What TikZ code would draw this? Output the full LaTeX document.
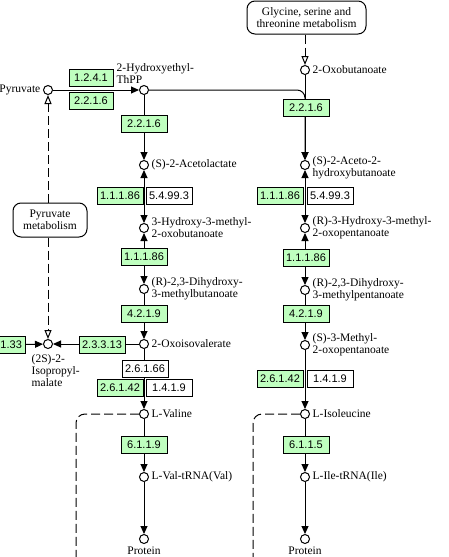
\documentclass[tikz,border=0pt]{standalone}
\usepackage{fontspec}
\setmainfont{Liberation Serif}
\newfontfamily\ecfont{Liberation Sans}
\usetikzlibrary{arrows.meta,positioning}
\pgfdeclarelayer{bg}
\pgfsetlayers{bg,main}
\definecolor{ecgreen}{RGB}{191,255,191}
\tikzset{
  cpd/.style={circle,draw,fill=white,minimum size=9pt,inner sep=0pt,line width=1pt},
  enz/.style={draw,fill=ecgreen,minimum width=46pt,minimum height=17pt,inner sep=0pt,
    line width=1pt,font=\ecfont\fontsize{11}{11}\selectfont},
  ortho/.style={enz,fill=white},
  lbl/.style={font=\fontsize{11.5}{12}\selectfont,align=left,inner sep=1.5pt},
  mapbox/.style={draw,fill=white,rounded corners=8pt,line width=1pt,align=center,
    inner sep=0pt,font=\fontsize{11.5}{12}\selectfont},
  conn/.style={line width=1pt},
  fwd/.style={conn,-{Triangle[length=8pt,width=7pt]}},
  rev/.style={conn,{Triangle[length=8pt,width=7pt]}-{Triangle[length=8pt,width=7pt]}},
  link/.style={conn,dash pattern=on 9pt off 4pt},
  linkarr/.style={link,-{Triangle[open,length=9pt,width=7pt]}}
}

\begin{document}
\begin{tikzpicture}[x=1pt,y=-1pt]
\useasboundingbox (0,0) rectangle (448,557);
\clip (0,0) rectangle (448,557);

% compounds, valine branch
\node[cpd] (pyr) at (48,90) {};
\node[cpd] (thpp) at (144,90) {};
\node[cpd] (acl) at (144,165) {};
\node[cpd] (hmob) at (144,228) {};
\node[cpd] (dhmb) at (144,289) {};
\node[cpd] (oiv) at (144,344) {};
\node[cpd] (ipm) at (48,344) {};
\node[cpd] (val) at (144,414) {};
\node[cpd] (valt) at (144,477) {};
\node[cpd] (protA) at (144,539) {};
% compounds, isoleucine branch
\node[cpd] (oxb) at (305,70) {};
\node[cpd] (ahb) at (305,165) {};
\node[cpd] (hmop) at (305,228) {};
\node[cpd] (dhmp) at (305,290) {};
\node[cpd] (mop) at (305,345) {};
\node[cpd] (ile) at (305,414) {};
\node[cpd] (ilet) at (305,477) {};
\node[cpd] (protB) at (305,539) {};

% compound names
\node[lbl,left=1pt of pyr] (pyrlbl) {Pyruvate};
\node[lbl,anchor=south west] (thpplbl) at (115,85) {2-Hydroxyethyl-\\ThPP};
\node[lbl,right=1pt of acl] (acllbl) {(S)-2-Acetolactate};
\node[lbl,right=1pt of hmob] (hmoblbl) {3-Hydroxy-3-methyl-\\2-oxobutanoate};
\node[lbl,right=1pt of dhmb] (dhmblbl) {(R)-2,3-Dihydroxy-\\3-methylbutanoate};
\node[lbl,right=1pt of oiv] (oivlbl) {2-Oxoisovalerate};
\node[lbl,anchor=north west] (ipmlbl) at (30,353) {(2S)-2-\\Isopropyl-\\malate};
\node[lbl,right=1pt of val] (vallbl) {L-Valine};
\node[lbl,right=1pt of valt] (valtlbl) {L-Val-tRNA(Val)};
\node[lbl,below=1pt of protA] (protAlbl) {Protein};
\node[lbl,right=1pt of oxb] (oxblbl) {2-Oxobutanoate};
\node[lbl,right=1pt of ahb,yshift=-3pt] (ahblbl) {(S)-2-Aceto-2-\\hydroxybutanoate};
\node[lbl,right=1pt of hmop] (hmoplbl) {(R)-3-Hydroxy-3-methyl-\\2-oxopentanoate};
\node[lbl,right=1pt of dhmp] (dhmplbl) {(R)-2,3-Dihydroxy-\\3-methylpentanoate};
\node[lbl,right=1pt of mop] (moplbl) {(S)-3-Methyl-\\2-oxopentanoate};
\node[lbl,right=1pt of ile] (ilelbl) {L-Isoleucine};
\node[lbl,right=1pt of ilet] (iletlbl) {L-Ile-tRNA(Ile)};
\node[lbl,below=1pt of protB] (protBlbl) {Protein};

% linked maps
\node[mapbox,minimum width=119pt,minimum height=33pt] (gly) at (306.5,17.5)
  {Glycine, serine and\\threonine metabolism};
\node[mapbox,minimum width=74pt,minimum height=34pt] (pm) at (50,220)
  {Pyruvate\\metabolism};

% enzymes
\node[enz,minimum width=44pt] (e1241) at (91,78) {1.2.4.1};
\node[enz,minimum width=44pt] (e2216a) at (91,101) {2.2.1.6};
\node[enz] (e2216b) at (144,123.5) {2.2.1.6};
\node[enz] (e11186a) at (120,195.5) {1.1.1.86};
\node[ortho] (e54993a) at (169,195.5) {5.4.99.3};
\node[enz] (e11186b) at (144,256.5) {1.1.1.86};
\node[enz] (e4219a) at (144,313.5) {4.2.1.9};
\node[enz] (e23313) at (102,345) {2.3.3.13};
\node[enz] (e42133) at (2,345) {4.2.1.33};
\node[ortho] (e26166) at (145,369) {2.6.1.66};
\node[enz] (e26142a) at (120,388) {2.6.1.42};
\node[ortho] (e1419a) at (169,388) {1.4.1.9};
\node[enz] (e6119) at (144,445) {6.1.1.9};
\node[enz] (e2216c) at (306,108) {2.2.1.6};
\node[enz] (e11186c) at (280,196) {1.1.1.86};
\node[ortho] (e54993b) at (330,196) {5.4.99.3};
\node[enz] (e11186d) at (306,258) {1.1.1.86};
\node[enz] (e4219b) at (306,313.5) {4.2.1.9};
\node[enz] (e26142b) at (280,378.5) {2.6.1.42};
\node[ortho] (e1419b) at (330,378.5) {1.4.1.9};
\node[enz] (e6115) at (306,445) {6.1.1.5};

\coordinate (valend) at (76,570);
\coordinate (ileend) at (253,570);

\begin{pgfonlayer}{bg}
\draw[fwd] (pyr) -- (thpp);
\draw[fwd,rounded corners=8pt] (thpp) -| (ahb);
\draw[fwd] (thpp) -- (acl);
\draw[rev] (acl) -- (hmob);
\draw[rev] (hmob) -- (dhmb);
\draw[fwd] (dhmb) -- (oiv);
\draw[fwd] (oiv) -- (ipm);
\draw[fwd] (e42133) -- (ipm);
\draw[fwd] (oiv) -- (val);
\draw[fwd] (val) -- (valt);
\draw[fwd] (valt) -- (protA);
\draw[link,rounded corners=9pt] (val) -| (valend);
\draw[fwd] (oxb) -- (ahb);
\draw[rev] (ahb) -- (hmop);
\draw[rev] (hmop) -- (dhmp);
\draw[fwd] (dhmp) -- (mop);
\draw[fwd] (mop) -- (ile);
\draw[fwd] (ile) -- (ilet);
\draw[fwd] (ilet) -- (protB);
\draw[link,rounded corners=9pt] (ile) -| (ileend);
\draw[linkarr] (gly.south -| oxb) -- (oxb);
\draw[linkarr] (pm.north -| pyr) -- (pyr);
\draw[linkarr] (pm.south -| ipm) -- (ipm);
\end{pgfonlayer}
\end{tikzpicture}
\end{document}
